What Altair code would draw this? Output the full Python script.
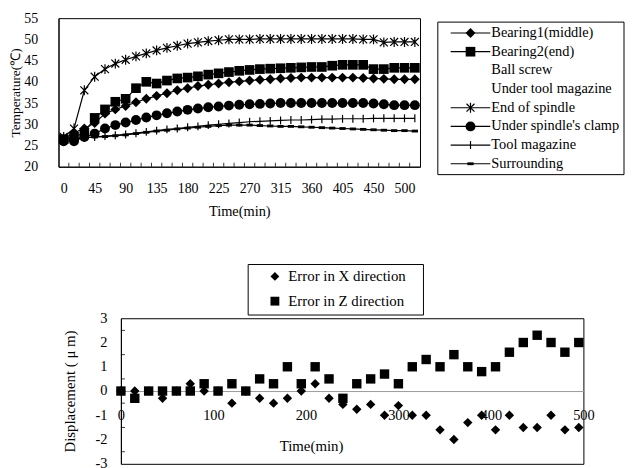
import altair as alt
import pandas as pd

FONT = "Liberation Serif, Times New Roman, serif"

# ---------------- data: top chart (temperatures) ----------------
t_top = list(range(0, 511, 15))  # 35 sampling times (min)
xtick_values = [0, 45, 90, 135, 180, 225, 270, 315, 360, 405, 450, 495]
xtick_labels = ["0", "45", "90", "135", "180", "225", "270", "315", "360", "405", "450", "500"]
cat_bounds = [7.5 + 15 * k for k in range(34)]

bearing1 = [26.5, 28.0, 29.0, 30.3, 32.5, 33.5, 34.3, 35.2, 36.0, 36.7,
            37.3, 38.0, 38.5, 39.0, 39.3, 39.6, 39.9, 40.1, 40.3, 40.5,
            40.6, 40.8, 40.9, 41.0, 41.0, 41.0, 41.0, 41.0, 41.0, 40.9,
            40.8, 40.7, 40.6, 40.6, 40.6]
bearing2 = [26.5, 27.0, 28.0, 31.5, 33.5, 35.3, 36.0, 38.5, 40.0, 39.6,
            40.3, 40.8, 41.0, 41.3, 41.7, 42.0, 42.3, 42.6, 42.8, 43.0,
            43.1, 43.2, 43.3, 43.4, 43.5, 43.5, 43.8, 44.0, 44.0, 44.0,
            43.0, 43.0, 43.3, 43.3, 43.3]
spindle_end = [27.0, 29.0, 38.0, 41.2, 43.0, 44.3, 45.2, 46.0, 46.7, 47.4,
               48.0, 48.5, 49.0, 49.3, 49.6, 49.8, 50.0, 50.0, 50.0, 50.1,
               50.1, 50.1, 50.1, 50.1, 50.1, 50.1, 50.1, 50.1, 50.1, 50.0,
               50.0, 49.3, 49.4, 49.4, 49.4]
clamp = [26.0, 26.0, 27.0, 27.8, 29.0, 29.8, 30.4, 31.0, 31.6, 32.1,
         32.6, 33.0, 33.4, 33.7, 34.0, 34.2, 34.4, 34.6, 34.7, 34.8,
         34.9, 35.0, 35.0, 35.0, 35.0, 35.0, 35.0, 35.0, 35.0, 35.0,
         34.9, 34.7, 34.5, 34.5, 34.5]
magazine = [26.5, 26.5, 26.8, 27.0, 27.2, 27.4, 27.6, 27.9, 28.2, 28.5,
            28.8, 29.0, 29.3, 29.5, 29.8, 30.0, 30.2, 30.4, 30.6, 30.7,
            30.8, 30.9, 31.0, 31.0, 31.1, 31.2, 31.2, 31.3, 31.3, 31.3,
            31.4, 31.4, 31.4, 31.4, 31.4]
surrounding = [26.8, 26.7, 26.8, 27.0, 27.1, 27.3, 27.5, 27.8, 28.1, 28.4,
               28.6, 28.9, 29.1, 29.3, 29.5, 29.7, 29.8, 29.8, 29.8, 29.7,
               29.6, 29.5, 29.5, 29.4, 29.3, 29.2, 29.1, 29.0, 28.9, 28.8,
               28.7, 28.6, 28.5, 28.5, 28.4]

legend_names = ["Bearing1(middle)", "Bearing2(end)", "Ball screw", "Under tool magazine",
                "End of spindle", "Under spindle's clamp", "Tool magazine", "Surrounding"]

# ---------------- data: bottom chart (errors) ----------------
t_bot = list(range(0, 496, 15))  # 34 times
err_x = [0, 0, 0, -0.3, 0, 0.3, 0, 0, -0.5, 0,
         -0.3, -0.5, -0.3, 0, 0.3, -0.3, -0.55, -0.75, -0.55, -1.0,
         -0.6, -1.0, -1.0, -1.6, -2.0, -1.3, -1.0, -1.6, -1.0, -1.5,
         -1.5, -1.0, -1.6, -1.5]
err_z = [0, -0.3, 0, 0, 0, 0, 0.3, 0, 0.3, 0,
         0.5, 0.3, 1.0, 0.3, 1.0, 0.5, -0.3, 0.3, 0.5, 0.7,
         0.3, 1.0, 1.3, 1.0, 1.5, 1.0, 0.8, 1.0, 1.6, 2.0,
         2.3, 2.0, 1.6, 2.0]
bot_names = ["Error in X direction", "Error in Z direction"]
y_bot_ticks = [-3, -2, -1, 0, 1, 2, 3]
y_bot_minor = [-2.5, -1.5, -0.5, 0.5, 1.5, 2.5]
x_bot_ticks = [0, 100, 200, 300, 400, 500]

# ---------------- marker styles ----------------
ASTERISK = "M-0.8,-0.8L0.8,0.8M-0.8,0.8L0.8,-0.8M0,-1L0,1"
VTICK = "M0,-1L0,1"
DASH = "M-1,-0.45L1,-0.45L1,0.45L-1,0.45Z"

plotted = [
    ("Bearing1(middle)", bearing1, "diamond", True, 100),
    ("Bearing2(end)", bearing2, "square", True, 95),
    ("End of spindle", spindle_end, ASTERISK, False, 100),
    ("Under spindle's clamp", clamp, "circle", True, 100),
    ("Tool magazine", magazine, VTICK, False, 64),
    ("Surrounding", surrounding, DASH, True, 40),
]
style = {p[0]: p for p in plotted}

rows = []
for name, vals, *_ in plotted:
    for t, v in zip(t_top, vals):
        rows.append({"t": t, "v": v, "s": name})
df_top = pd.DataFrame(rows)
df_bounds = pd.DataFrame({"b": cat_bounds})

xs_top = alt.Scale(domain=[-7.5, 517.5], nice=False, zero=False)
ys_top = alt.Scale(domain=[20, 55], nice=False, zero=False)
label_expr = ("[" + ",".join(f"'{l}'" for l in xtick_labels) + "][indexof(["
              + ",".join(str(v) for v in xtick_values) + "], datum.value)]")
ax_x_top = alt.Axis(values=xtick_values, labelExpr=label_expr, ticks=False, tickSize=0,
                    labelPadding=15, titlePadding=9, labelFontSize=14, titleFontSize=14.5,
                    labelAngle=0, labelOverlap=False, labelFlush=False, grid=False)
ax_y_top = alt.Axis(values=list(range(20, 56, 5)), ticks=False, tickSize=0,
                    labelPadding=21, titlePadding=1, labelFontSize=14, titleFontSize=13.5,
                    grid=False)


def xt(field="t"):
    return alt.X(f"{field}:Q", scale=xs_top, axis=ax_x_top, title="Time(min)")


def yt():
    return alt.Y("v:Q", scale=ys_top, axis=ax_y_top, title="Temperature(℃)")


layers = [
    alt.Chart(df_bounds).mark_rule(color="black", strokeWidth=0.8).encode(
        x=xt("b"), y=alt.value(150), y2=alt.value(146))
]
for name, vals, shape, filled, size in plotted:
    layers.append(
        alt.Chart(df_top).transform_filter(alt.FieldEqualPredicate(field="s", equal=name))
        .mark_line(color="black", strokeWidth=1.2).encode(x=xt(), y=yt()))
for name, vals, shape, filled, size in plotted:
    layers.append(
        alt.Chart(df_top).transform_filter(alt.FieldEqualPredicate(field="s", equal=name))
        .mark_point(shape=shape, filled=filled, size=size, color="black", opacity=1,
                    strokeWidth=1.2)
        .encode(x=xt(), y=yt()))

top_chart = alt.layer(*layers).properties(
    width=365, height=150, view=alt.ViewBackground(stroke="black", strokeWidth=1))

# ---------------- top legend panel ----------------
df_leg = pd.DataFrame({"name": legend_names, "idx": list(range(len(legend_names)))})
df_leg["line"] = df_leg["name"].isin(list(style.keys()))
leg_y = alt.Scale(domain=[-0.7955, 7.583], reverse=True, nice=False, zero=False)
LEG_W, LEG_H = 188, 158

leg_layers = [
    alt.Chart(pd.DataFrame({"z": [0]})).mark_rect(fill="white", stroke="black", strokeWidth=1)
    .encode(x=alt.value(0), x2=alt.value(LEG_W), y=alt.value(4), y2=alt.value(LEG_H)),
    alt.Chart(df_leg).transform_filter("datum.line").mark_rule(color="black", strokeWidth=1.2)
    .encode(x=alt.value(13), x2=alt.value(53), y=alt.Y("idx:Q", scale=leg_y, axis=None)),
]
for name, vals, shape, filled, size in plotted:
    leg_layers.append(
        alt.Chart(df_leg).transform_filter(alt.FieldEqualPredicate(field="name", equal=name))
        .mark_point(shape=shape, filled=filled, size=size, color="black", opacity=1,
                    strokeWidth=1.2)
        .encode(x=alt.value(33), y=alt.Y("idx:Q", scale=leg_y, axis=None)))
leg_layers.append(
    alt.Chart(df_leg).mark_text(align="left", baseline="middle", font=FONT, fontSize=14.5,
                                color="black")
    .encode(x=alt.value(54), y=alt.Y("idx:Q", scale=leg_y, axis=None), text="name:N"))

legend_panel = alt.layer(*leg_layers).properties(width=LEG_W, height=LEG_H)

top_row = alt.hconcat(top_chart, legend_panel, spacing=15)

# ---------------- bottom chart ----------------
df_bot = pd.DataFrame({
    "t": t_bot + t_bot,
    "d": err_x + err_z,
    "s": [bot_names[0]] * len(t_bot) + [bot_names[1]] * len(t_bot),
})
xs_b = alt.Scale(domain=[0, 500], nice=False, zero=False)
ys_b = alt.Scale(domain=[-3, 3], nice=False, zero=False)
ax_x_b = alt.Axis(values=x_bot_ticks, offset=-73.5, ticks=False, tickSize=0,
                  labelPadding=17.75, titlePadding=17, domainColor="#9a9a9a",
                  labelFlush=False, labelFontSize=14.5, titleFontSize=15, titleX=192,
                  labelAngle=0, grid=False)
ax_y_b = alt.Axis(values=y_bot_ticks, ticks=False, tickSize=0, labelPadding=14,
                  titlePadding=18, labelFontSize=14.5, titleFontSize=15,
                  labelExpr="'' + datum.value", grid=False)

bot_points = alt.Chart(df_bot).mark_point(filled=True, size=90, opacity=1).encode(
    x=alt.X("t:Q", scale=xs_b, axis=ax_x_b, title="Time(min)"),
    y=alt.Y("d:Q", scale=ys_b, axis=ax_y_b, title="Displacement ( μ m)"),
    shape=alt.Shape("s:N", scale=alt.Scale(domain=bot_names, range=["diamond", "square"]),
                    legend=alt.Legend(orient="none", legendX=191, legendY=248.25, title=" ",
                                      titleOrient="right", titlePadding=12, padding=5,
                                      symbolOffset=15, labelOffset=6, strokeColor="black",
                                      fillColor="white", labelFont=FONT, labelFontSize=15,
                                      labelColor="black", symbolSize=80,
                                      symbolFillColor="black", symbolStrokeWidth=0,
                                      rowPadding=9)),
    color=alt.value("black"),
)
bot_minor = alt.Chart(pd.DataFrame({"m": y_bot_minor})).mark_rule(color="black", strokeWidth=0.8).encode(
    y=alt.Y("m:Q", scale=ys_b, axis=ax_y_b, title="Displacement ( μ m)"),
    x=alt.value(0), x2=alt.value(4))

bottom_chart = alt.layer(bot_minor, bot_points).properties(
    width=467, height=147, view=alt.ViewBackground(stroke="black", strokeWidth=1))

spacer = alt.Chart(pd.DataFrame({"z": [0]})).mark_point(opacity=0).encode(
    x=alt.value(0), y=alt.value(0)).properties(width=1, height=1)

bottom_row = alt.hconcat(spacer, bottom_chart, spacing=0)

chart = alt.vconcat(top_row, bottom_row, spacing=92).properties(
    padding=0, background="white"
).configure_view(stroke=None).configure_axis(
    labelFont=FONT, titleFont=FONT, labelColor="black", titleColor="black",
    domainColor="black", titleFontWeight="normal", grid=False
).configure_legend(titleFont=FONT)

chart.save("out.html", embed_options={"renderer": "svg", "actions": False})
